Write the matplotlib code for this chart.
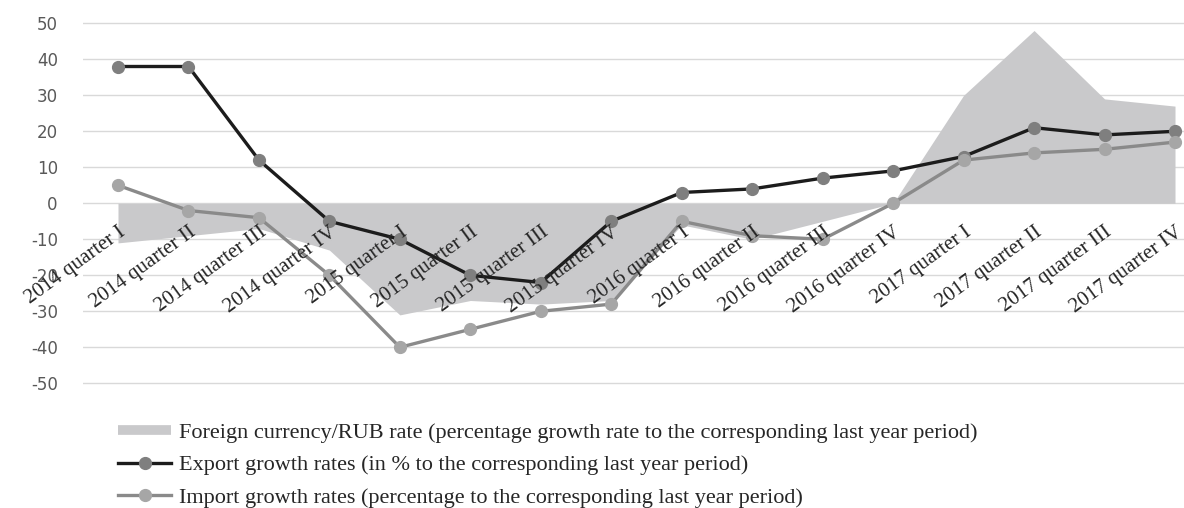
import matplotlib
matplotlib.use('Agg')
import matplotlib.pyplot as plt
from matplotlib.lines import Line2D

plt.rcParams['axes.unicode_minus'] = False

quarters = ['2014 quarter I', '2014 quarter II', '2014 quarter III', '2014 quarter IV',
            '2015 quarter I', '2015 quarter II', '2015 quarter III', '2015 quarter IV',
            '2016 quarter I', '2016 quarter II', '2016 quarter III', '2016 quarter IV',
            '2017 quarter I', '2017 quarter II', '2017 quarter III', '2017 quarter IV']
currency_rate = [-11, -9, -7, -13, -31, -27, -28, -27, -6, -10, -5, 0, 30, 48, 29, 27]
export_growth = [38, 38, 12, -5, -10, -20, -22, -5, 3, 4, 7, 9, 13, 21, 19, 20]
import_growth = [5, -2, -4, -20, -40, -35, -30, -28, -5, -9, -10, 0, 12, 14, 15, 17]
y_ticks = [-50, -40, -30, -20, -10, 0, 10, 20, 30, 40, 50]

labels = ['Foreign currency/RUB rate (percentage growth rate to the corresponding last year period)',
          'Export growth rates (in % to the corresponding last year period)',
          'Import growth rates (percentage to the corresponding last year period)']

W, H = 1184, 508
fig = plt.figure(figsize=(W / 100, H / 100), dpi=100)

# plot area in pixels: categories 118..1175, y 50 at 23, -50 at 383
step = (1175 - 118) / 15
x_left = 118 - step / 2
x_right_val = (W - 118) / step
ppu = (383.3 - 23.3) / 100
top_px = 23.3 - ppu * 1
bot_px = 383.3 + ppu * 1
ax = fig.add_axes([x_left / W, 1 - bot_px / H, (W - x_left) / W, (bot_px - top_px) / H])

x = list(range(len(quarters)))
area_col = '#c9c9cb'

# gridlines under the area, tick labels on top of everything
for yv in y_ticks:
    ax.axhline(yv, color='#d9d9d9', lw=1, zorder=0.5)
ax.fill_between(x, currency_rate, 0, color=area_col, lw=0, zorder=1)
exp_line, = ax.plot(x, export_growth, color='#1c1c1c', lw=2.4, marker='o', ms=8.5,
                    mfc='#7f7f7f', mec='#7f7f7f', clip_on=False, zorder=2)
imp_line, = ax.plot(x, import_growth, color='#8a8a8a', lw=2.4, marker='o', ms=8.5,
                    mfc='#a6a6a6', mec='#a6a6a6', clip_on=False, zorder=2.1)

ax.set_xlim(-0.5, x_right_val)
ax.set_ylim(-51, 51)
ax.set_yticks(y_ticks)
for s in ax.spines.values():
    s.set_visible(False)
ax.spines['bottom'].set_position(('data', 0))
ax.xaxis.set_zorder(5)

ax.set_xticks(x)
ax.set_xticklabels(quarters, rotation=36, ha='right', va='top', rotation_mode='anchor',
                   fontfamily='Liberation Serif', fontsize=15, color='#262626')
ax.tick_params(axis='x', length=0, pad=14)
ax.tick_params(axis='y', length=0, pad=18, labelsize=12, labelcolor='#595959')

area_handle = Line2D([], [], color=area_col, lw=7, solid_capstyle='butt')
fig.legend([area_handle, exp_line, imp_line], labels, loc='upper left',
           bbox_to_anchor=(118 / W, 1 - 422 / H), frameon=False, borderpad=0,
           borderaxespad=0, handlelength=2.4, handletextpad=0.35, labelspacing=0.55,
           prop={'family': 'Liberation Serif', 'size': 16}, labelcolor='#262626')

fig.savefig('out.png', dpi=100)
